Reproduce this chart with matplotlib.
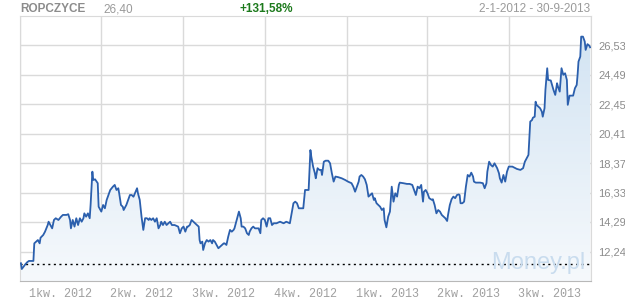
"""ROPCZYCE share price chart, 2-1-2012 .. 30-9-2013 (Money.pl style)."""

import matplotlib
matplotlib.use("Agg")
import matplotlib.dates as mdates
import matplotlib.pyplot as plt
import numpy as np
import pandas as pd
from matplotlib.colors import LinearSegmentedColormap

# ── Data ─────────────────────────────────────────────────────────────────────
START = pd.Timestamp("2012-01-01")

# days since 2012-01-01
days = [
    1, 2, 6, 8, 10, 15, 16, 18, 20, 22, 23, 26, 28, 31, 32, 34, 36, 38, 40, 43,
    46, 48, 52, 54, 56, 57, 59, 61, 63, 65, 67, 69, 71, 72, 74, 76, 78, 79, 81, 82,
    84, 87, 88, 91, 93, 95, 97, 99, 101, 104, 106, 108, 110, 111, 113, 115, 116, 119, 121, 123,
    125, 127, 131, 132, 134, 136, 138, 140, 142, 144, 145, 147, 149, 151, 153, 155, 157, 158, 160, 162,
    164, 166, 168, 170, 173, 177, 179, 181, 183, 185, 187, 188, 190, 192, 194, 196, 198, 200, 201, 202,
    204, 205, 207, 209, 211, 213, 215, 216, 218, 220, 222, 224, 226, 228, 229, 231, 233, 235, 237, 239,
    240, 242, 244, 245, 247, 248, 250, 252, 254, 256, 257, 259, 261, 263, 265, 267, 269, 270, 272, 274,
    276, 278, 280, 282, 284, 287, 291, 295, 298, 302, 304, 306, 308, 310, 312, 315, 317, 319, 323, 325,
    326, 328, 330, 331, 333, 335, 337, 338, 340, 342, 345, 347, 349, 351, 353, 356, 360, 364, 367, 371,
    373, 375, 377, 379, 380, 382, 384, 386, 388, 390, 392, 394, 396, 397, 399, 401, 403, 405, 407, 408,
    410, 412, 414, 416, 418, 420, 422, 424, 425, 429, 433, 436, 439, 441, 443, 445, 447, 449, 451, 452,
    454, 456, 458, 461, 462, 464, 466, 468, 470, 472, 474, 476, 478, 479, 481, 483, 485, 487, 489, 491,
    492, 493, 495, 497, 499, 501, 503, 505, 507, 508, 510, 515, 518, 520, 522, 523, 525, 527, 529, 531,
    533, 534, 536, 537, 539, 541, 543, 545, 547, 551, 556, 560, 563, 565, 569, 571, 573, 574, 576, 577,
    578, 580, 582, 584, 585, 587, 588, 590, 591, 594, 596, 597, 599, 601, 602, 604, 606, 608, 610, 612,
    613, 615, 617, 619, 621, 623, 624, 625, 627, 628, 630, 632, 633, 635, 637, 638,
]

price = [
    11.43, 11.03, 11.36, 11.50, 11.59, 11.59, 12.81, 12.93, 13.04, 12.81, 13.20, 13.39, 13.62, 14.08, 14.31, 14.08, 13.85, 14.43, 14.55, 14.43,
    14.66, 14.78, 14.78, 14.83, 14.43, 13.85, 14.43, 13.97, 14.55, 14.08, 14.55, 14.31, 14.55, 14.89, 14.66, 14.89, 14.55, 15.47, 17.78, 17.20,
    17.25, 16.98, 15.35, 15.01, 15.47, 15.24, 15.82, 16.16, 16.51, 16.74, 16.86, 16.51, 16.63, 16.28, 15.47, 15.35, 15.12, 15.47, 15.82, 16.16,
    16.16, 16.04, 16.63, 16.28, 15.82, 14.66, 13.74, 14.55, 14.55, 14.43, 14.55, 14.43, 14.55, 14.31, 14.55, 13.85, 14.08, 14.31, 14.08, 14.31,
    14.08, 14.20, 14.31, 14.08, 14.08, 13.97, 13.51, 13.85, 13.97, 13.62, 13.97, 13.97, 14.08, 14.43, 14.31, 14.20, 14.08, 13.97, 13.04, 12.81,
    12.93, 12.35, 12.81, 13.04, 12.93, 13.04, 12.81, 13.04, 12.93, 12.70, 12.47, 12.58, 12.70, 12.81, 12.81, 12.70, 13.27, 13.74, 13.62, 13.74,
    13.85, 14.31, 14.78, 15.01, 14.55, 13.97, 13.97, 13.85, 13.51, 13.39, 13.62, 13.85, 13.97, 13.85, 13.85, 13.85, 13.51, 14.43, 14.55, 14.43,
    13.97, 14.55, 14.55, 14.08, 14.20, 14.20, 14.31, 14.20, 14.31, 14.20, 14.89, 15.59, 15.70, 15.59, 15.24, 15.24, 15.24, 16.51, 16.51, 19.28,
    18.82, 18.13, 17.67, 17.32, 18.02, 17.90, 17.90, 17.55, 18.47, 18.54, 18.54, 18.36, 17.67, 17.09, 17.44, 17.40, 17.32, 17.20, 17.09, 16.98,
    16.74, 16.39, 16.74, 17.09, 17.44, 17.55, 17.44, 17.25, 16.86, 16.05, 16.16, 16.28, 15.82, 15.94, 15.59, 15.47, 15.35, 15.12, 15.24, 14.43,
    13.92, 14.66, 15.01, 16.74, 15.70, 16.28, 16.05, 16.86, 17.02, 16.98, 16.93, 16.93, 16.86, 16.51, 16.16, 16.74, 16.63, 16.86, 15.70, 16.39,
    16.51, 16.28, 15.94, 15.82, 15.87, 15.47, 14.89, 15.12, 15.01, 14.78, 14.66, 14.55, 14.36, 14.78, 15.47, 15.87, 16.05, 15.94, 16.16, 16.20,
    16.16, 15.59, 15.59, 15.70, 16.74, 17.55, 17.44, 17.71, 17.44, 17.09, 17.02, 17.02, 16.98, 16.63, 16.98, 17.78, 18.47, 18.24, 18.13, 18.36,
    18.13, 18.02, 17.67, 17.32, 17.02, 17.55, 17.09, 17.78, 18.13, 18.13, 17.97, 17.90, 18.02, 18.47, 18.94, 21.25, 21.36, 21.52, 21.59, 22.63,
    22.41, 22.30, 22.18, 21.94, 21.59, 22.18, 23.45, 24.95, 24.14, 24.10, 23.68, 23.45, 23.10, 23.91, 23.68, 23.33, 24.95, 24.49, 24.60, 24.14,
    22.41, 23.05, 23.05, 23.05, 23.56, 23.79, 24.49, 25.41, 25.76, 27.14, 27.14, 26.80, 26.22, 26.62, 26.52, 26.40,
]

start_price = 11.40
y_min, y_max = 10.20, 28.57
y_ticks = [12.24, 14.29, 16.33, 18.37, 20.41, 22.45, 24.49, 26.53]
y_labels = ["12,24", "14,29", "16,33", "18,37", "20,41", "22,45", "24,49", "26,53"]

quarter_starts = pd.date_range("2012-01-01", "2013-10-01", freq="QS")
quarter_labels = ["1kw. 2012", "2kw. 2012", "3kw. 2012", "4kw. 2012",
                  "1kw. 2013", "2kw. 2013", "3kw. 2013"]

GRID  = "#dadada"
GRAY  = "#8c8c8c"
LINE  = "#2b5fad"

# ── Plot ─────────────────────────────────────────────────────────────────────
dates = START + pd.to_timedelta(days, unit="D")
x = mdates.date2num(dates)

fig = plt.figure(figsize=(6.25, 3.0), dpi=100)
ax = fig.add_axes([20 / 625, 19 / 300, 571 / 625, 265 / 300])

x0, x1 = mdates.date2num(quarter_starts[0]), mdates.date2num(quarter_starts[-1])
ax.set_xlim(x0, x1)
ax.set_ylim(y_min, y_max)

# gradient fill under the line
fill = ax.fill_between(x, price, y_min, color="none", lw=0)
cmap = LinearSegmentedColormap.from_list("bluefade", ["#f6f9fc", "#d3e4f3"])
grad = np.linspace(0, 1, 256).reshape(-1, 1)
img = ax.imshow(grad, cmap=cmap, aspect="auto", origin="lower",
                extent=[x0, x1, y_min, 27.2], zorder=1)
img.set_clip_path(fill.get_paths()[0], transform=ax.transData)

ax.plot(x, price, color=LINE, lw=1.3, zorder=3)
ax.axhline(start_price, color="black", lw=1.0, ls=(0, (1.5, 2.5)), zorder=2)

# grid
ax.set_yticks(y_ticks)
ax.set_yticklabels(y_labels)
ax.set_xticks(mdates.date2num(quarter_starts))
ax.set_xticklabels([])
mids = [(mdates.date2num(a) + mdates.date2num(b)) / 2
        for a, b in zip(quarter_starts[:-1], quarter_starts[1:])]
ax.set_xticks(mids, minor=True)
ax.set_xticklabels(quarter_labels, minor=True)
ax.grid(True, which="major", color=GRID, lw=1.0, zorder=0)
ax.set_axisbelow(True)

ax.yaxis.tick_right()
ax.tick_params(axis="y", length=0, pad=5, labelsize=8, labelcolor=GRAY)
ax.tick_params(axis="x", which="both", length=0, pad=5)
for lab in ax.get_xticklabels(minor=True):
    lab.set_fontfamily("Liberation Mono")
    lab.set_fontsize(8.5)
    lab.set_color("#a0a0a0")
for lab in ax.get_yticklabels():
    lab.set_fontfamily("Liberation Sans")

for side in ["left", "right", "top"]:
    ax.spines[side].set_color(GRID)
ax.spines["bottom"].set_color("#b8b8b8")

# watermark
ax.text(0.99, 0.025, "Money.pl", transform=ax.transAxes, ha="right", va="bottom",
        fontsize=17, color="#c9dcee", family="Liberation Sans", zorder=2)

# header
fig.text(20 / 625, 1 - 9 / 300, "ROPCZYCE", ha="left", va="center",
         fontsize=8.5, fontweight="bold", color=GRAY, family="Liberation Sans")
fig.text(103 / 625, 1 - 9 / 300, "26,40", ha="left", va="center",
         fontsize=8.5, color="#9a9a9a", family="Liberation Sans")
fig.text(240 / 625, 1 - 9 / 300, "+131,58%", ha="left", va="center",
         fontsize=8.5, fontweight="bold", color="#1d7a1d", family="Liberation Sans")
fig.text(590 / 625, 1 - 9 / 300, "2-1-2012 - 30-9-2013", ha="right", va="center",
         fontsize=8.5, color="#9a9a9a", family="Liberation Sans")

fig.savefig("out.png", dpi=100)
